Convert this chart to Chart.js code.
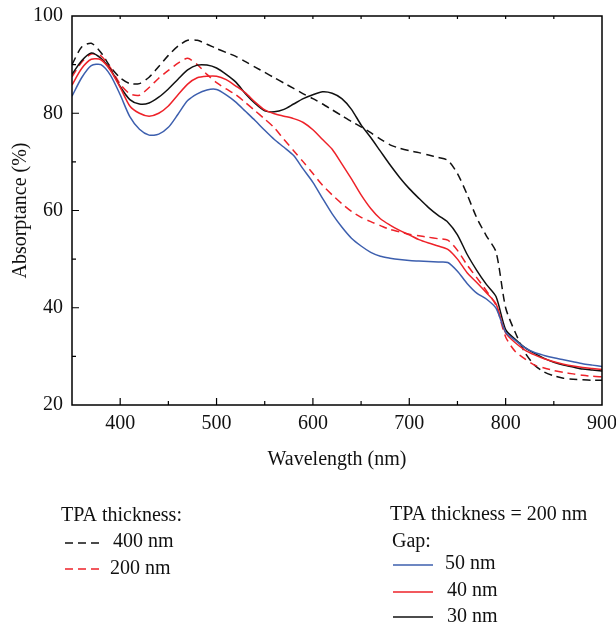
<!DOCTYPE html>
<html>
<head>
<meta charset="utf-8">
<script src="https://cdn.jsdelivr.net/npm/chart.js@4"></script>
<style>
  html, body { margin: 0; padding: 0; background: #fff; }
  #wrap { position: relative; width: 616px; height: 629px; }
</style>
</head>
<body>
<div id="wrap"><canvas id="c" width="616" height="629"></canvas></div>
<script>
// wavelength grid (nm)
const wavelengths = [350, 360, 370, 380, 390, 400, 410, 420, 430, 440, 450, 460, 470, 480, 490, 500,
  510, 520, 530, 540, 550, 560, 570, 580, 590, 600, 610, 620, 630, 640, 650, 660, 670, 680, 690, 700,
  710, 720, 730, 740, 750, 760, 770, 780, 790, 800, 810, 820, 830, 840, 850, 860, 870, 880, 890, 900];

// TPA thickness = 200 nm, gap series (absorptance %)
const gap50 = [83.5, 87.3, 89.8, 90.0, 87.8, 83.8, 79.3, 76.7, 75.5, 75.7, 77.1, 79.8, 82.6, 84.0, 84.8, 84.9,
  83.8, 82.3, 80.4, 78.5, 76.5, 74.6, 73.0, 71.3, 68.5, 65.8, 62.5, 59.3, 56.6, 54.3, 52.7, 51.4, 50.6, 50.2, 49.9, 49.7,
  49.6, 49.5, 49.4, 49.3, 47.5, 45.0, 43.0, 41.8, 39.9, 35.0, 33.3, 31.8, 30.8, 30.2, 29.7, 29.3, 28.9, 28.5, 28.2, 27.9];
const gap40 = [85.8, 89.2, 91.1, 91.0, 88.8, 85.3, 81.5, 80.0, 79.4, 80.0, 81.5, 83.8, 86.0, 87.3, 87.6, 87.6,
  86.9, 85.6, 84.2, 82.3, 80.7, 79.9, 79.4, 78.9, 78.1, 76.6, 74.6, 72.6, 69.6, 66.5, 63.2, 60.4, 58.3, 57.0, 55.9, 55.0,
  54.0, 53.3, 52.7, 52.0, 50.0, 47.2, 45.2, 43.1, 40.8, 34.8, 32.8, 31.3, 30.3, 29.5, 28.9, 28.4, 28.0, 27.7, 27.5, 27.3];
const gap30 = [88.0, 90.8, 92.4, 91.3, 89.0, 85.5, 82.8, 81.9, 82.1, 83.3, 85.0, 87.0, 88.9, 89.9, 89.9, 89.3,
  88.0, 86.4, 84.0, 82.0, 80.5, 80.3, 80.8, 81.9, 83.0, 83.8, 84.4, 84.1, 83.0, 80.8, 77.6, 75.0, 72.2, 69.4, 66.8, 64.5,
  62.5, 60.6, 59.0, 57.6, 55.0, 51.0, 47.7, 44.8, 42.3, 35.5, 33.5, 31.8, 30.6, 29.6, 28.8, 28.2, 27.8, 27.4, 27.2, 27.0];

// TPA thickness series
const tpa200 = [87.5, 90.5, 92.2, 91.8, 89.3, 86.0, 84.0, 83.7, 85.3, 87.2, 88.8, 90.3, 91.3, 90.0, 88.0, 86.3,
  85.0, 83.8, 82.2, 80.5, 78.8, 77.0, 74.6, 72.3, 70.0, 67.6, 65.2, 63.2, 61.4, 59.8, 58.6, 57.7, 56.9, 56.1, 55.6, 55.1,
  54.8, 54.5, 54.2, 53.9, 51.8, 48.8, 46.2, 43.5, 40.5, 34.0, 31.0, 29.5, 28.2, 27.6, 27.1, 26.7, 26.4, 26.1, 25.9, 25.8];
const tpa400 = [90.0, 93.6, 94.4, 92.5, 89.5, 87.3, 86.1, 86.1, 87.4, 89.6, 91.9, 93.8, 95.0, 95.0, 94.2, 93.3,
  92.5, 91.7, 90.6, 89.5, 88.4, 87.3, 86.2, 85.1, 84.0, 83.0, 81.9, 80.7, 79.5, 78.3, 77.2, 76.0, 74.7, 73.5, 72.8, 72.3,
  71.9, 71.4, 70.9, 70.3, 67.6, 63.3, 58.5, 54.8, 51.5, 40.0, 34.9, 30.8, 28.2, 26.8, 26.0, 25.5, 25.3, 25.2, 25.1, 25.1];

const xTicks = [400, 500, 600, 700, 800, 900];
const yTicks = [20, 40, 60, 80, 100];

const BLUE = '#3d5fae';
const RED = '#ee2229';
const BLACK = '#111111';
const FONT = '"Liberation Serif", "DejaVu Serif", serif';
const DASH = [8, 5];

function pts(vals) {
  return wavelengths.map((w, i) => ({ x: w, y: vals[i] }));
}

function line(label, vals, color, dashed) {
  return {
    label: label,
    data: pts(vals),
    borderColor: color,
    borderWidth: 1.5,
    borderDash: dashed ? DASH : [],
    pointRadius: 0,
    tension: 0.25,
    fill: false,
  };
}

// frame + inward ticks
const framePlugin = {
  id: 'frame',
  afterDatasetsDraw(chart) {
    const { ctx, chartArea: a, scales } = chart;
    const xs = scales.x, ys = scales.y;
    ctx.save();
    ctx.strokeStyle = '#000';
    ctx.lineWidth = 1.5;
    ctx.strokeRect(a.left, a.top, a.right - a.left, a.bottom - a.top);
    ctx.lineWidth = 1.2;
    ctx.beginPath();
    for (let v = 400; v < 900; v += 50) {
      const px = xs.getPixelForValue(v);
      const len = v % 100 === 0 ? 7 : 4;
      ctx.moveTo(px, a.bottom); ctx.lineTo(px, a.bottom - len);
      ctx.moveTo(px, a.top); ctx.lineTo(px, a.top + 3);
    }
    for (let v = 30; v < 100; v += 10) {
      const py = ys.getPixelForValue(v);
      const len = v % 20 === 0 ? 7 : 4;
      ctx.moveTo(a.left, py); ctx.lineTo(a.left + len, py);
    }
    ctx.stroke();
    ctx.restore();
  },
};

// two-block legend under the plot
const legendPlugin = {
  id: 'customLegend',
  afterDraw(chart) {
    const ctx = chart.ctx;
    ctx.save();
    ctx.font = '20px ' + FONT;
    ctx.fillStyle = '#111';
    ctx.textBaseline = 'middle';
    ctx.textAlign = 'left';

    function sample(x1, x2, y, color, dashed) {
      ctx.beginPath();
      ctx.strokeStyle = color;
      ctx.lineWidth = 1.4;
      ctx.setLineDash(dashed ? DASH : []);
      ctx.moveTo(x1, y); ctx.lineTo(x2, y);
      ctx.stroke();
      ctx.setLineDash([]);
    }

    ctx.fillText('TPA thickness:', 61, 516);
    sample(65, 100, 543, BLACK, true);
    ctx.fillText('400 nm', 113, 542);
    sample(65, 100, 569, RED, true);
    ctx.fillText('200 nm', 110, 569);

    ctx.fillText('TPA thickness = 200 nm', 390, 515);
    ctx.fillText('Gap:', 392, 542);
    sample(393, 433, 565, BLUE, false);
    ctx.fillText('50 nm', 445, 564);
    sample(393, 433, 592, RED, false);
    ctx.fillText('40 nm', 447, 591);
    sample(393, 433, 617, BLACK, false);
    ctx.fillText('30 nm', 447, 617);
    ctx.restore();
  },
};

new Chart(document.getElementById('c'), {
  type: 'line',
  data: {
    datasets: [
      line('Gap 50 nm', gap50, BLUE, false),
      line('Gap 40 nm', gap40, RED, false),
      line('Gap 30 nm', gap30, BLACK, false),
      line('TPA 200 nm', tpa200, RED, true),
      line('TPA 400 nm', tpa400, BLACK, true),
    ],
  },
  options: {
    responsive: false,
    animation: false,
    layout: { padding: { top: 16, right: 14, bottom: 154, left: 0 } },
    plugins: { legend: { display: false }, tooltip: { enabled: false } },
    scales: {
      x: {
        type: 'linear',
        min: 350,
        max: 900,
        afterFit: s => { s.height = 70; s.paddingLeft = 0; s.paddingRight = 0; },
        afterBuildTicks: s => { s.ticks = xTicks.map(v => ({ value: v })); },
        grid: { display: false, drawTicks: false },
        border: { display: false },
        ticks: { color: '#111', padding: 7, maxRotation: 0, font: { family: FONT, size: 20 } },
        title: { display: true, text: 'Wavelength (nm)', color: '#111', padding: { top: 0, bottom: 3 }, font: { family: FONT, size: 20 } },
      },
      y: {
        min: 20,
        max: 100,
        afterFit: s => { s.width = 72; s.paddingTop = 0; s.paddingBottom = 0; },
        afterBuildTicks: s => { s.ticks = yTicks.map(v => ({ value: v })); },
        grid: { display: false, drawTicks: false },
        border: { display: false },
        ticks: { color: '#111', padding: 9, font: { family: FONT, size: 20 } },
        title: { display: true, text: 'Absorptance (%)', color: '#111', padding: { top: 9, bottom: 0 }, font: { family: FONT, size: 20 } },
      },
    },
  },
  plugins: [framePlugin, legendPlugin],
});
</script>
</body>
</html>
